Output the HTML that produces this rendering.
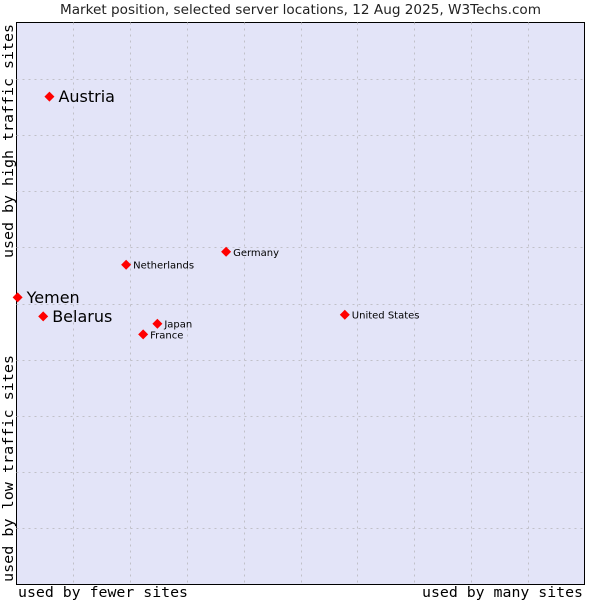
<!DOCTYPE html>
<html><head><meta charset="utf-8"><style>
body{margin:0;background:#fff;}
svg{display:block;}
</style></head><body>
<svg id="chart" width="600" height="600" xmlns="http://www.w3.org/2000/svg">
<text x="60" y="14" textLength="481" lengthAdjust="spacingAndGlyphs" font-family="DejaVu Sans, sans-serif" font-size="13" fill="#222">Market position, selected server locations, 12 Aug 2025, W3Techs.com</text>
<rect x="16.5" y="22.5" width="568" height="562" fill="#e3e4f8" stroke="#000" stroke-width="1"/>
<g id="grid"></g>
<g id="points"></g>
<text x="18" y="597" textLength="170" lengthAdjust="spacingAndGlyphs" font-family="DejaVu Sans Mono, monospace" font-size="14" fill="#000">used by fewer sites</text>
<text x="422" y="597" textLength="161" lengthAdjust="spacingAndGlyphs" font-family="DejaVu Sans Mono, monospace" font-size="14" fill="#000">used by many sites</text>
<text transform="translate(13,258) rotate(-90)" textLength="234" lengthAdjust="spacingAndGlyphs" font-family="DejaVu Sans Mono, monospace" font-size="14" fill="#000">used by high traffic sites</text>
<text transform="translate(13,582) rotate(-90)" textLength="227" lengthAdjust="spacingAndGlyphs" font-family="DejaVu Sans Mono, monospace" font-size="14" fill="#000">used by low traffic sites</text>
</svg>
<script>
const names = ["Austria","Yemen","Belarus","Netherlands","Germany","Japan","France","United States"];
const xValues = [5.8,0.2,4.7,19.3,36.9,24.8,22.3,57.8];
const yValues = [86.8,51.1,47.7,56.9,59.2,46.4,44.5,48.0];
const highlighted = [true,true,true,false,false,false,false,false];
const L=16.5,T=22.5,W=568,H=562;
function sx(v){return L+v/100*W;}
function sy(v){return T+H-v/100*H;}
const NS="http://www.w3.org/2000/svg";
const grid=document.getElementById('grid');
for(let i=1;i<10;i++){
  const v=document.createElementNS(NS,'line');
  
  
  const x=Math.round(sx(i*10))+0.5;
  v.setAttribute('x1',x);v.setAttribute('x2',x);v.setAttribute('y1',T);v.setAttribute('y2',T+H);
  v.setAttribute('stroke','#c0c0c8');v.setAttribute('stroke-dasharray','2,4');
  grid.appendChild(v);
  const h=document.createElementNS(NS,'line');
  
  
  const y=Math.round(sy(i*10))+0.5;
  h.setAttribute('y1',y);h.setAttribute('y2',y);h.setAttribute('x1',L);h.setAttribute('x2',L+W);
  h.setAttribute('stroke','#c0c0c8');h.setAttribute('stroke-dasharray','2,4');
  grid.appendChild(h);
}
const pts=document.getElementById('points');
names.forEach((n,i)=>{
  const x=sx(xValues[i]),y=sy(yValues[i]);
  const c=document.createElementNS(NS,'path');
  
  
  c.setAttribute('d',`M${x} ${y-5}L${x+5} ${y}L${x} ${y+5}L${x-5} ${y}Z`);
  c.setAttribute('fill','#ff0000');
  pts.appendChild(c);
  const t=document.createElementNS(NS,'text');
  
  
  const big=highlighted[i];
  t.setAttribute('x',x+(big?9:7));
  t.setAttribute('y',y+(big?5.5:4));
  t.setAttribute('font-family','DejaVu Sans, sans-serif');
  t.setAttribute('font-size',big?16:10);
  t.setAttribute('fill','#000');
  t.textContent=n;
  pts.appendChild(t);
});
</script>
</body></html>
